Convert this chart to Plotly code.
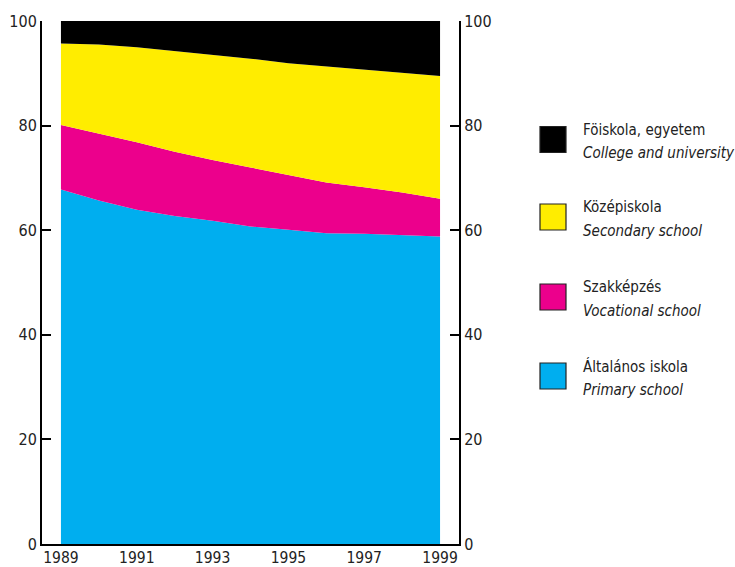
import plotly.graph_objects as go

years = [1989, 1990, 1991, 1992, 1993, 1994, 1995, 1996, 1997, 1998, 1999]
primary = [67.8, 65.7, 63.9, 62.7, 61.8, 60.7, 60.1, 59.4, 59.3, 59.1, 58.8]
vocational = [12.3, 12.8, 12.9, 12.3, 11.6, 11.3, 10.5, 9.7, 8.9, 8.1, 7.2]
secondary = [15.6, 17.0, 18.2, 19.3, 20.1, 20.8, 21.3, 22.2, 22.4, 22.9, 23.5]
college = [4.3, 4.5, 5.0, 5.7, 6.5, 7.2, 8.1, 8.7, 9.4, 9.9, 10.5]

series = [
    ("Általános iskola", "Primary school", primary, "#00AEEF"),
    ("Szakképzés", "Vocational school", vocational, "#EC008C"),
    ("Középiskola", "Secondary school", secondary, "#FFED00"),
    ("Föiskola, egyetem", "College and university", college, "#000000"),
]

xticks = [1989, 1991, 1993, 1995, 1997, 1999]
yticks = [0, 20, 40, 60, 80, 100]

FONT = "Liberation Sans Narrow, DejaVu Sans Condensed, Arial Narrow, sans-serif"

fig = go.Figure()
for hu, en, vals, col in series:
    fig.add_trace(go.Scatter(
        x=years, y=vals, stackgroup="one", mode="lines",
        line=dict(width=0, color=col), fillcolor=col,
        name=en, showlegend=False, hoverinfo="skip",
    ))

# invisible trace on secondary y axis so the right axis renders
fig.add_trace(go.Scatter(x=[years[0]], y=[0], yaxis="y2", mode="markers",
                         marker=dict(opacity=0), showlegend=False, hoverinfo="skip"))

axis_common = dict(
    range=[0, 100], tickvals=yticks, ticks="inside", ticklen=9, tickwidth=2,
    tickcolor="black", showline=True, linewidth=2, linecolor="black",
    showgrid=False, zeroline=False, automargin=False,
    tickfont=dict(family=FONT, size=16, color="#222"),
)

fig.update_layout(
    width=735, height=567,
    margin=dict(l=42, r=276, t=21, b=23, autoexpand=False),
    plot_bgcolor="white", paper_bgcolor="white",
    xaxis=dict(range=[1988.5, 1999.5], tickvals=xticks, showline=True, linewidth=2,
               linecolor="black", showgrid=False, zeroline=False, ticks="",
               automargin=False, ticklabelstandoff=-2,
               tickfont=dict(family=FONT, size=15.5, color="#222")),
    yaxis=dict(side="left", **axis_common),
    yaxis2=dict(side="right", overlaying="y", **axis_common),
    showlegend=False,
)

# legend drawn manually (top to bottom: college, secondary, vocational, primary)
legend_y = [139.5, 217, 297, 376]
for (hu, en, vals, col), yc in zip(series[::-1], legend_y):
    fig.add_shape(type="rect", xref="paper", yref="paper",
                  x0=(540 - 42) / 417, x1=(566 - 42) / 417,
                  y0=(544 - (yc + 13)) / 523, y1=(544 - (yc - 13)) / 523,
                  fillcolor=col, line=dict(color="#222", width=1.2))
    fig.add_annotation(xref="paper", yref="paper", x=(581 - 42) / 417,
                       y=(544 - (yc - 10)) / 523, xanchor="left", yanchor="middle",
                       text=hu, showarrow=False,
                       font=dict(family=FONT, size=15, color="#222"))
    fig.add_annotation(xref="paper", yref="paper", x=(581 - 42) / 417,
                       y=(544 - (yc + 14)) / 523, xanchor="left", yanchor="middle",
                       text="<i>" + en + "</i>", showarrow=False,
                       font=dict(family=FONT, size=15, color="#222"))

fig.write_html("out.html", config={"displayModeBar": False},
               post_script="document.body.style.margin='0';document.body.style.overflow='hidden';")
